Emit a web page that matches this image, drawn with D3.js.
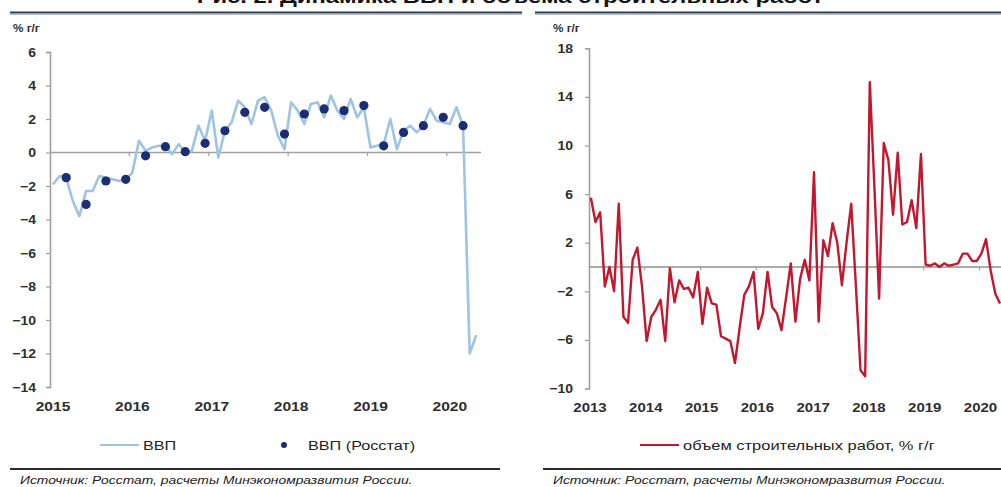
<!DOCTYPE html>
<html>
<head>
<meta charset="utf-8">
<script src="https://cdn.jsdelivr.net/npm/d3@7"></script>
<style>
  html, body { margin: 0; padding: 0; background: #fff; }
  svg { display: block; }
  text { font-family: "Liberation Sans", Arial, sans-serif; }
</style>
</head>
<body>
<svg id="chart" width="1001" height="487"></svg>
<script>
// Monthly GDP estimate, % y/y, Jan 2015 – May 2020
const gdpMonthly = [
  -1.9, -1.4, -1.5, -2.9, -3.8, -2.3, -2.3, -1.4, -1.5, -1.6, -1.7, -1.6,
  -1.2, 0.7, 0.1, 0.3, 0.4, 0.4, -0.1, 0.5, 0.0, 0.1, 1.6, 0.7,
  2.5, -0.3, 1.3, 1.8, 3.1, 2.7, 1.7, 3.1, 3.3, 2.5, 1.0, 0.2,
  3.0, 2.5, 1.7, 2.9, 3.0, 2.1, 3.4, 2.5, 2.0, 3.2, 2.1, 2.7,
  0.3, 0.4, 0.5, 2.0, 0.2, 1.3, 1.6, 1.2, 1.6, 2.6, 1.9, 1.8,
  1.7, 2.7, 1.6, -12.0, -10.9
];
// Quarterly GDP (Rosstat), % y/y, Q1 2015 – Q1 2020
const gdpQuarterly = [
  -1.5, -3.1, -1.7, -1.6,
  -0.2, 0.35, 0.05, 0.55,
  1.3, 2.4, 2.7, 1.1,
  2.3, 2.6, 2.5, 2.8,
  0.4, 1.2, 1.6, 2.1,
  1.6
];
// Construction volume, % y/y, Jan 2013 – May 2020
const constructionMonthly = [
  5.7, 3.7, 4.5, -1.6, 0.0, -2.0, 5.2, -4.1, -4.6, 0.6, 1.6, -1.6,
  -6.1, -4.1, -3.5, -2.7, -6.1, -0.1, -2.9, -1.1, -1.8, -1.7, -2.5, -0.4,
  -4.7, -1.7, -3.0, -3.1, -5.7, -5.9, -6.1, -7.9, -5.0, -2.3, -1.6, -0.4,
  -5.1, -3.8, -0.4, -3.3, -3.8, -5.2, -2.5, 0.3, -4.5, -1.0, 0.6, -1.1,
  7.8, -4.5, 2.2, 0.9, 3.6, 2.0, -1.5, 2.0, 5.2, -1.5, -8.5, -9.0,
  15.2, 6.5, -2.6, 10.2, 8.8, 4.3, 9.4, 3.5, 3.7, 5.5, 3.2, 9.3,
  0.2, 0.1, 0.3, 0.0, 0.3, 0.1, 0.2, 0.3, 1.1, 1.1, 0.5, 0.5,
  1.1, 2.3, -0.3, -2.2, -3.0
];
const yearsLeft = [2015, 2016, 2017, 2018, 2019, 2020];
const yearsRight = [2013, 2014, 2015, 2016, 2017, 2018, 2019, 2020];
const ticksLeft = [6, 4, 2, 0, -2, -4, -6, -8, -10, -12, -14];
const ticksRight = [18, 14, 10, 6, 2, -2, -6, -10];

const svg = d3.select("#chart");
const gridGray = "#a0a0a0";
const labelColor = "#2e2e2e";

// Text drawn with a horizontal stretch (wide typeface look)
function wideText(parent, x, y, str, o) {
  const sx = o.sx || 1.2;
  const g = parent.append("g").attr("transform", `translate(${x},${y}) scale(${sx},1)`);
  return g.append("text")
    .attr("text-anchor", o.anchor || "start")
    .attr("font-size", o.size || 12)
    .attr("font-weight", o.weight || "normal")
    .attr("font-style", o.style || "normal")
    .attr("fill", o.fill || "#222")
    .text(str);
}

// Heading (runs off the top edge)
wideText(svg, 510, 3, "Рис. 2. Динамика ВВП и объема строительных работ",
  { anchor: "middle", size: 19, weight: "bold", fill: "#111", sx: 1.25 });

// Panel header rules
function headerRule(x1, x2) {
  svg.append("line").attr("x1", x1).attr("x2", x2).attr("y1", 12.5).attr("y2", 12.5)
    .attr("stroke", "#343a46").attr("stroke-width", 2.2);
  svg.append("line").attr("x1", x1).attr("x2", x2).attr("y1", 14.5).attr("y2", 14.5)
    .attr("stroke", "#b3bfd3").attr("stroke-width", 1);
}
headerRule(10, 522);
headerRule(535, 1001);

// Footer rules and sources
function footer(x1, x2, tx) {
  svg.append("line").attr("x1", x1).attr("x2", x2).attr("y1", 469).attr("y2", 469)
    .attr("stroke", "#2a2a2a").attr("stroke-width", 2);
  wideText(svg, tx, 484, "Источник: Росстат, расчеты Минэкономразвития России.",
    { size: 11, style: "italic", fill: "#222", sx: 1.26 });
}
footer(10, 500, 20);
footer(543, 1001, 553);

function unitLabel(x) {
  wideText(svg, x, 32, "% г/г", { size: 10.5, weight: "bold", fill: labelColor, sx: 1.12 });
}
unitLabel(13);
unitLabel(553);

function styleAxis(g, pad, sx) {
  g.select(".domain").attr("stroke", gridGray).attr("stroke-width", 1.6);
  g.selectAll(".tick line").attr("stroke", gridGray).attr("stroke-width", 1.2);
  g.selectAll(".tick text").attr("fill", labelColor).attr("font-size", 12.5)
    .attr("font-weight", "bold").attr("font-family", "Liberation Sans, Arial, sans-serif")
    .attr("x", -pad / sx).attr("transform", `scale(${sx},1)`);
}

// ---------- Left panel: GDP ----------
const xL = d3.scaleLinear().domain([2015, 2020.43]).range([50, 481]);
const yL = d3.scaleLinear().domain([-14, 6]).range([387, 52]);
const monthT = (start, i) => start + (i + 0.45) / 12;

svg.append("g").attr("transform", "translate(50,0)")
  .call(d3.axisLeft(yL).tickValues(ticksLeft).tickSize(4).tickFormat(d3.format("d")))
  .call(g => styleAxis(g, 14, 1.12));

svg.append("line").attr("x1", xL(2015)).attr("x2", xL.range()[1])
  .attr("y1", yL(0)).attr("y2", yL(0)).attr("stroke", gridGray).attr("stroke-width", 1.6);
svg.append("g").selectAll("line").data(yearsLeft.slice(1)).join("line")
  .attr("x1", d => xL(d)).attr("x2", d => xL(d))
  .attr("y1", yL(0)).attr("y2", yL(0) + 3.5)
  .attr("stroke", gridGray).attr("stroke-width", 1.2);
const yearsL = svg.append("g");
yearsLeft.forEach(d => wideText(yearsL, xL(d) + 3, 411, d,
  { anchor: "middle", size: 13, weight: "bold", fill: labelColor, sx: 1.2 }));

const gdpColor = "#9dc4e2";
const dotColor = "#1c2d72";
svg.append("path")
  .datum(gdpMonthly)
  .attr("fill", "none").attr("stroke", gdpColor).attr("stroke-width", 2.6)
  .attr("stroke-linejoin", "round")
  .attr("d", d3.line().x((d, i) => xL(monthT(2015, i))).y(d => yL(d)));
svg.append("g").selectAll("circle").data(gdpQuarterly).join("circle")
  .attr("cx", (d, i) => xL(monthT(2015, i * 3 + 2)))
  .attr("cy", d => yL(d))
  .attr("r", 4.6).attr("fill", dotColor);

// Left legend
svg.append("line").attr("x1", 100).attr("x2", 139).attr("y1", 445).attr("y2", 445)
  .attr("stroke", gdpColor).attr("stroke-width", 2.2);
wideText(svg, 143, 450, "ВВП", { size: 13.5, sx: 1.2 });
svg.append("circle").attr("cx", 284).attr("cy", 445).attr("r", 3).attr("fill", dotColor);
wideText(svg, 308, 450, "ВВП (Росстат)", { size: 13.5, sx: 1.2 });

// ---------- Right panel: construction ----------
const xR = d3.scaleLinear().domain([2013, 2020.385]).range([589, 1001]);
const yR = d3.scaleLinear().domain([-10, 18]).range([388.5, 48.3]);

svg.append("g").attr("transform", "translate(589,0)")
  .call(d3.axisLeft(yR).tickValues(ticksRight).tickSize(4).tickFormat(d3.format("d")))
  .call(g => styleAxis(g, 16, 1.12));

svg.append("line").attr("x1", xR(2013)).attr("x2", 1001)
  .attr("y1", yR(0)).attr("y2", yR(0)).attr("stroke", "#8f8f8f").attr("stroke-width", 1.6);
svg.append("g").selectAll("line").data(yearsRight.slice(1)).join("line")
  .attr("x1", d => xR(d)).attr("x2", d => xR(d))
  .attr("y1", yR(0)).attr("y2", yR(0) + 3.5)
  .attr("stroke", gridGray).attr("stroke-width", 1.2);
const yearsR = svg.append("g");
yearsRight.forEach(d => wideText(yearsR, xR(d) + 1, 412, d,
  { anchor: "middle", size: 12.5, weight: "bold", fill: labelColor, sx: 1.2 }));

const buildColor = "#c2182f";
svg.append("path")
  .datum(constructionMonthly)
  .attr("fill", "none").attr("stroke", buildColor).attr("stroke-width", 2.4)
  .attr("stroke-linejoin", "round")
  .attr("d", d3.line().x((d, i) => xR(2013 + (i + 0.4) / 12)).y(d => yR(d)));

// Right legend
svg.append("line").attr("x1", 640).attr("x2", 679).attr("y1", 445).attr("y2", 445)
  .attr("stroke", buildColor).attr("stroke-width", 2.2);
wideText(svg, 683, 450, "объем строительных работ, % г/г", { size: 13.5, sx: 1.22 });
</script>
</body>
</html>
